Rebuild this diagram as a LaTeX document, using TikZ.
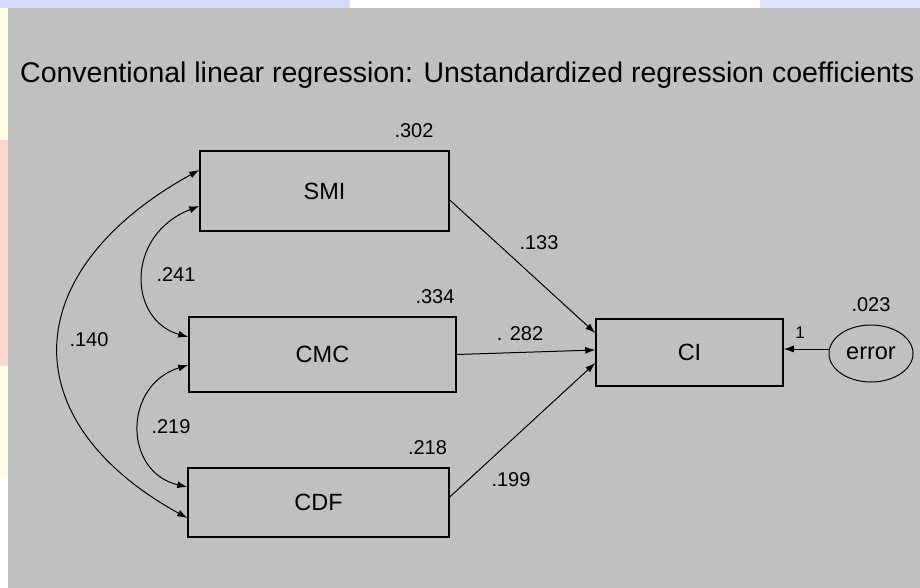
\documentclass[tikz,border=0pt]{standalone}
\usepackage{fontspec}
\setmainfont{Liberation Sans}
\usetikzlibrary{arrows.meta,shapes.geometric}
\definecolor{amosgray}{RGB}{192,192,192}
\definecolor{slideblue}{RGB}{212,218,255}
\definecolor{slideyellow}{RGB}{255,253,228}
\definecolor{slidepink}{RGB}{255,214,208}

\begin{document}
\begin{tikzpicture}[x=1pt,y=1pt,
    var/.style={draw, line width=1.5pt, inner sep=0pt, font=\fontsize{23.5}{28}\selectfont},
    coef/.style={inner sep=0pt, font=\fontsize{20}{24}\selectfont},
    regarrow/.style={line width=1pt, -{Latex[length=10pt,width=7pt]}},
    cov/.style={line width=1pt, {Latex[length=10pt,width=7pt]}-{Latex[length=10pt,width=7pt]}}
  ]
  \useasboundingbox (0,0) rectangle (920,-588);

  % slide background and the AMOS canvas
  \fill[white] (0,0) rectangle (920,-588);
  \fill[slideblue] (0,0) rectangle (350,-8);
  \fill[slideblue!70] (760,0) rectangle (920,-8);
  \fill[slideyellow] (0,-8) rectangle (8,-140);
  \fill[slidepink] (0,-140) rectangle (8,-366);
  \fill[slideyellow] (0,-366) rectangle (8,-478);
  \fill[amosgray] (8,-8) rectangle (920,-588);

  % title
  \node[anchor=base west, inner sep=0pt, font=\fontsize{28.5}{34}\selectfont] (title) at (20,-83)
    {Conventional linear regression: Unstandardized regression coefficients};

  % observed variables
  \node[var, minimum width=249pt, minimum height=80pt] (smi) at (324.5,-191) {SMI};
  \node[var, minimum width=267pt, minimum height=75pt] (cmc) at (322.5,-354.5) {CMC};
  \node[var, minimum width=261pt, minimum height=69pt] (cdf) at (318.5,-502.5) {CDF};
  \node[var, minimum width=187pt, minimum height=67pt] (ci) at (689.5,-352.5) {CI};
  \node[draw, ellipse, line width=1pt, inner sep=0pt, minimum width=84pt, minimum height=57pt,
    font=\fontsize{23.5}{28}\selectfont] (error) at (871,-353.5) {error};

  % variances
  \node[coef] (vsmi) at (414,-131) {.302};
  \node[coef] (vcmc) at (435,-297) {.334};
  \node[coef] (vcdf) at (427.5,-448) {.218};
  \node[coef] (verr) at (871,-305) {.023};

  % regression paths
  \draw[regarrow] ([yshift=-9pt]smi.east) -- ([yshift=19.5pt]ci.west);
  \draw[regarrow] (cmc.east) -- ([yshift=2.5pt]ci.west);
  \draw[regarrow] ([yshift=5.5pt]cdf.east) -- ([yshift=-10.5pt]ci.west);
  \draw[regarrow] ([yshift=4.5pt]error.west) -- ([yshift=4.5pt]error.west -| ci.east);
  \node[coef] (bsmi) at (539,-242.5) {.133};
  \node[coef] (bcmc) at (520,-334) {. 282};
  \node[coef] (bcdf) at (511,-480) {.199};
  \node[coef, font=\fontsize{17}{20}\selectfont] (berr) at (800,-332.5) {1};

  % covariances
  \draw[cov] ([yshift=-15pt]smi.west) .. controls (125,-235) and (128,-320) .. ([yshift=17.5pt]cmc.west);
  \draw[cov] ([yshift=-10.5pt]cmc.west) .. controls (123,-385) and (123,-472) .. ([yshift=15.5pt]cdf.west);
  \draw[cov] ([yshift=21pt]smi.west) .. controls (18,-270) and (10,-420) .. ([yshift=-15.5pt]cdf.west);
  \node[coef] (csmicmc) at (176,-275) {.241};
  \node[coef] (ccmccdf) at (171,-427) {.219};
  \node[coef] (csmicdf) at (89,-340) {.140};
\end{tikzpicture}
\end{document}
